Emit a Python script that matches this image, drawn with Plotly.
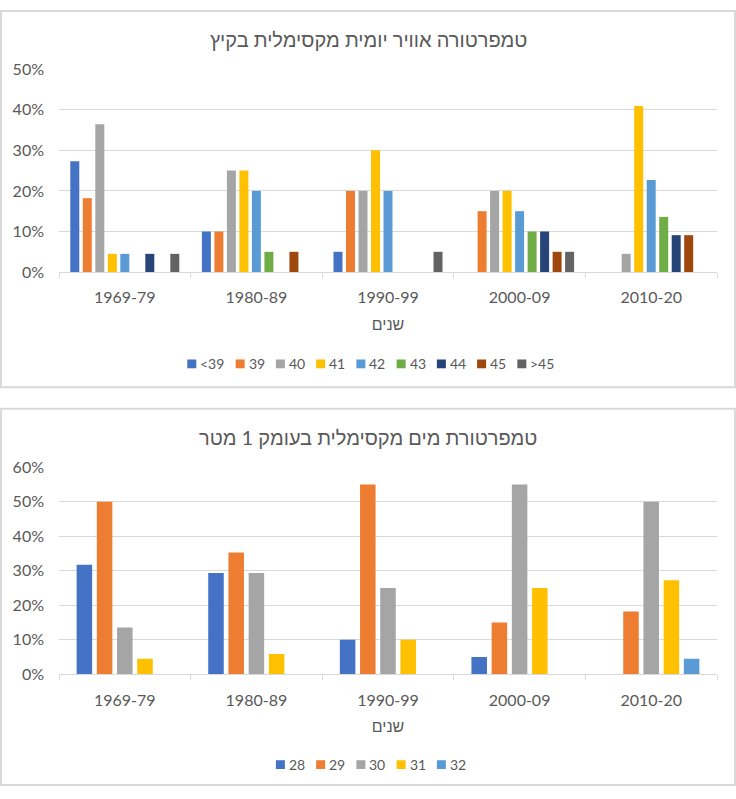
import plotly.graph_objects as go

W, H = 736, 799

periods = ["1969-79", "1980-89", "1990-99", "2000-09", "2010-20"]

# Top chart: daily max air temperature in summer (share of days per class)
air_classes = ["<39", "39", "40", "41", "42", "43", "44", "45", ">45"]
air_lt39 = [0.273, 0.10, 0.05, 0.0, 0.0]
air_39 = [0.182, 0.10, 0.20, 0.15, 0.0]
air_40 = [0.364, 0.25, 0.20, 0.20, 0.045]
air_41 = [0.045, 0.25, 0.30, 0.20, 0.409]
air_42 = [0.045, 0.20, 0.20, 0.15, 0.227]
air_43 = [0.0, 0.05, 0.0, 0.10, 0.136]
air_44 = [0.045, 0.0, 0.0, 0.10, 0.091]
air_45 = [0.0, 0.05, 0.0, 0.05, 0.091]
air_gt45 = [0.045, 0.0, 0.05, 0.05, 0.0]
air_series = [air_lt39, air_39, air_40, air_41, air_42, air_43, air_44, air_45, air_gt45]

# Bottom chart: max water temperature at 1 m depth
water_classes = ["28", "29", "30", "31", "32"]
water_28 = [0.318, 0.294, 0.10, 0.05, 0.0]
water_29 = [0.50, 0.353, 0.55, 0.15, 0.182]
water_30 = [0.136, 0.294, 0.25, 0.55, 0.50]
water_31 = [0.045, 0.059, 0.10, 0.25, 0.273]
water_32 = [0.0, 0.0, 0.0, 0.0, 0.045]
water_series = [water_28, water_29, water_30, water_31, water_32]

air_title = "טמפרטורה אוויר יומית מקסימלית בקיץ"
water_title = "טמפרטורת מים מקסימלית בעומק 1 מטר"
x_title = "שנים"

air_colors = ["#4472C4", "#ED7D31", "#A5A5A5", "#FFC000", "#5B9BD5",
              "#70AD47", "#264478", "#9E480E", "#636363"]
water_colors = ["#4472C4", "#ED7D31", "#A5A5A5", "#FFC000", "#5B9BD5"]

FONT = "Lato, Liberation Sans, DejaVu Sans, sans-serif"
TXT = "#595959"
GRID = "#D9D9D9"


def px_x(p):
    return p / W


def px_y(p):
    return 1 - p / H


fig = go.Figure()

# top chart bars
n = len(air_series)
slot, bw = 0.095, 0.0684
for i, (name, vals, col) in enumerate(zip(air_classes, air_series, air_colors)):
    fig.add_trace(go.Bar(
        x=periods, y=vals, name=name, marker_color=col, marker_line_width=0,
        width=bw, offset=(i - (n - 1) / 2) * slot - bw / 2,
        xaxis="x", yaxis="y", showlegend=False,
        hovertemplate="%{x}<br>" + name + ": %{y:.1%}<extra></extra>",
    ))

# bottom chart bars
n2 = len(water_series)
slot2, bw2 = 0.1535, 0.118
for i, (name, vals, col) in enumerate(zip(water_classes, water_series, water_colors)):
    fig.add_trace(go.Bar(
        x=periods, y=vals, name=name, marker_color=col, marker_line_width=0,
        width=bw2, offset=(i - (n2 - 1) / 2) * slot2 - bw2 / 2,
        xaxis="x2", yaxis="y2", showlegend=False,
        hovertemplate="%{x}<br>" + name + ": %{y:.1%}<extra></extra>",
    ))

xdom = [px_x(59), px_x(717)]

xaxis_common = dict(
    type="category", showline=True, linecolor=GRID, linewidth=1,
    ticks="outside", tickson="boundaries", ticklen=5, tickcolor=GRID,
    showgrid=False, tickfont=dict(family=FONT, size=16, color=TXT),
    ticklabelstandoff=11, fixedrange=True,
)
yaxis_common = dict(
    tickformat=".0%", showgrid=True, gridcolor=GRID, gridwidth=1,
    zeroline=False, showline=False, ticks="",
    tickfont=dict(family=FONT, size=16, color=TXT), ticklabelstandoff=14,
    fixedrange=True,
)

# ---- compact legends (Excel style: small square + label) ----
shapes = [
    dict(type="rect", xref="paper", yref="paper",
         x0=px_x(1), x1=px_x(735), y0=px_y(386.5), y1=px_y(1),
         line=dict(color=GRID, width=2), fillcolor="rgba(0,0,0,0)", layer="below"),
    dict(type="rect", xref="paper", yref="paper",
         x0=px_x(1), x1=px_x(735), y0=px_y(794), y1=px_y(408.5),
         line=dict(color=GRID, width=2), fillcolor="rgba(0,0,0,0)", layer="below"),
]
annotations = [
    dict(text=air_title, xref="paper", yref="paper",
         x=px_x(368), y=px_y(30), xanchor="center", yanchor="middle", showarrow=False,
         font=dict(family=FONT, size=20, color=TXT)),
    dict(text=water_title, xref="paper", yref="paper",
         x=px_x(368), y=px_y(437), xanchor="center", yanchor="middle", showarrow=False,
         font=dict(family=FONT, size=20, color=TXT)),
]

LEG_FS = 14
SQ = 9


def text_w(s):
    return len(s) * 0.58 * LEG_FS


def add_legend(names, colors, cy, cx=370.5):
    widths = [SQ + 3 + text_w(s) for s in names]
    gap = 12
    total = sum(widths) + gap * (len(names) - 1)
    x = cx - total / 2
    for s, c, w in zip(names, colors, widths):
        shapes.append(dict(type="rect", xref="paper", yref="paper",
                           x0=px_x(x), x1=px_x(x + SQ),
                           y0=px_y(cy + SQ / 2), y1=px_y(cy - SQ / 2),
                           line=dict(width=0), fillcolor=c))
        annotations.append(dict(text=s, xref="paper", yref="paper",
                                x=px_x(x + SQ + 2), y=px_y(cy), xanchor="left",
                                yanchor="middle", showarrow=False,
                                font=dict(family=FONT, size=LEG_FS, color=TXT)))
        x += w + gap


add_legend(air_classes, air_colors, 362.5)
add_legend(water_classes, water_colors, 773)

fig.update_layout(
    width=W, height=H, margin=dict(l=0, r=0, t=0, b=0),
    paper_bgcolor="white", plot_bgcolor="white",
    barmode="overlay", showlegend=False,
    font=dict(family=FONT, color=TXT),
    xaxis=dict(domain=xdom, anchor="y",
               title=dict(text=x_title, font=dict(family=FONT, size=16, color=TXT), standoff=13),
               **xaxis_common),
    yaxis=dict(domain=[px_y(268.5), px_y(60.5)], anchor="x", range=[0, 0.5], dtick=0.1,
               **yaxis_common),
    xaxis2=dict(domain=xdom, anchor="y2",
                title=dict(text=x_title, font=dict(family=FONT, size=16, color=TXT), standoff=13),
                **xaxis_common),
    yaxis2=dict(domain=[px_y(680.5), px_y(468.5)], anchor="x2", range=[0, 0.6], dtick=0.1,
                **yaxis_common),
    shapes=shapes,
    annotations=annotations,
)

fig.write_html("out.html", config={"displayModeBar": False},
               post_script="document.body.style.margin='0px';")
